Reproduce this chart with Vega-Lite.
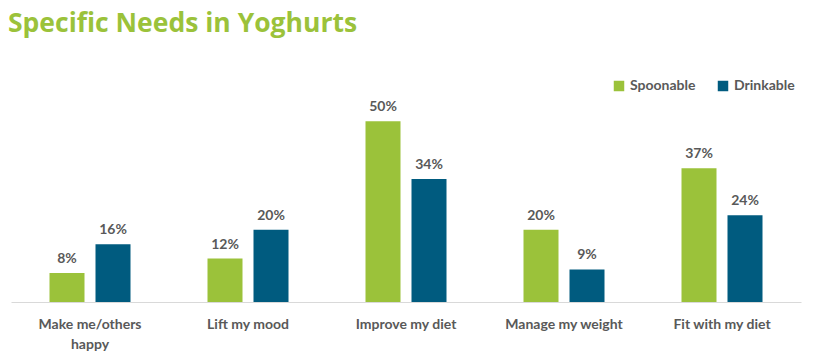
{
  "$schema": "https://vega.github.io/schema/vega-lite/v6.json",
  "width": 790,
  "height": 217,
  "autosize": {"type": "none"},
  "padding": {"left": 11, "top": 85, "right": 13, "bottom": 62},
  "background": "white",
  "title": {
    "text": "Specific Needs in Yoghurts",
    "anchor": "start",
    "frame": "group",
    "font": "Open Sans",
    "fontSize": 26.5,
    "fontWeight": "bold",
    "color": "#9BC23A",
    "dx": -3,
    "offset": 42
  },
  "data": {
    "values": [
      {"need": "Make me/others happy", "type": "Spoonable", "value": 0.08},
      {"need": "Make me/others happy", "type": "Drinkable", "value": 0.16},
      {"need": "Lift my mood", "type": "Spoonable", "value": 0.12},
      {"need": "Lift my mood", "type": "Drinkable", "value": 0.20},
      {"need": "Improve my diet", "type": "Spoonable", "value": 0.50},
      {"need": "Improve my diet", "type": "Drinkable", "value": 0.34},
      {"need": "Manage my weight", "type": "Spoonable", "value": 0.20},
      {"need": "Manage my weight", "type": "Drinkable", "value": 0.09},
      {"need": "Fit with my diet", "type": "Spoonable", "value": 0.37},
      {"need": "Fit with my diet", "type": "Drinkable", "value": 0.24}
    ]
  },
  "encoding": {
    "x": {
      "field": "need",
      "type": "nominal",
      "sort": null,
      "scale": {"paddingInner": 0, "paddingOuter": 0},
      "axis": {
        "title": null,
        "labelAngle": 0,
        "labelFont": "Lato",
        "labelFontSize": 14,
        "labelFontWeight": "bold",
        "labelColor": "#595959",
        "labelPadding": 15,
        "ticks": false,
        "domainColor": "#D9D9D9",
        "labelExpr": "datum.value == 'Make me/others happy' ? ['Make me/others', 'happy'] : datum.value",
        "labelLineHeight": 20
      }
    },
    "xOffset": {
      "field": "type",
      "sort": ["Spoonable", "Drinkable"],
      "scale": {"paddingInner": 0.239, "paddingOuter": 0.837}
    },
    "y": {
      "field": "value",
      "type": "quantitative",
      "scale": {"domain": [0, 0.6]},
      "axis": null
    }
  },
  "layer": [
    {
      "mark": {"type": "bar"},
      "encoding": {
        "color": {
          "field": "type",
          "type": "nominal",
          "sort": ["Spoonable", "Drinkable"],
          "scale": {"domain": ["Spoonable", "Drinkable"], "range": ["#9BC23A", "#005B7F"]},
          "legend": {
            "title": null,
            "orient": "none",
            "direction": "horizontal",
            "legendX": 601,
            "legendY": -6,
            "symbolType": "square",
            "symbolSize": 110,
            "symbolStrokeWidth": 0,
            "labelFont": "Lato",
            "labelFontSize": 14,
            "labelFontWeight": "bold",
            "labelColor": "#595959",
            "columnPadding": 20,
            "labelOffset": 4
          }
        }
      }
    },
    {
      "mark": {"type": "text", "baseline": "bottom", "dy": -7, "font": "Lato", "fontSize": 14, "fontWeight": "bold", "color": "#595959"},
      "encoding": {
        "text": {"field": "value", "type": "quantitative", "format": ".0%"}
      }
    }
  ],
  "config": {"view": {"stroke": null}}
}
